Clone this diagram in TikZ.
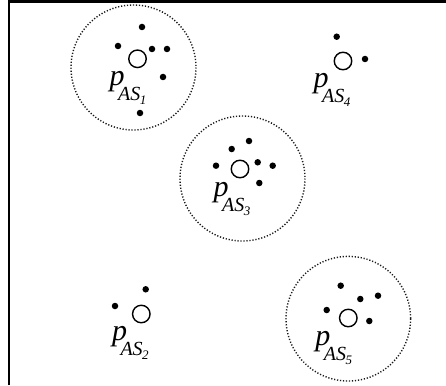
\documentclass[tikz,border=0pt]{standalone}
\usepackage{fontspec}
\setmainfont{Liberation Serif}
\newcommand{\plab}[1]{{\fontsize{30}{30}\selectfont\itshape p}\kern-6.5pt\raisebox{-15pt}{\fontsize{20}{20}\selectfont\itshape AS\kern-0.5pt\raisebox{-4pt}{\fontsize{13}{13}\selectfont\itshape #1}}}
\begin{document}
\begin{tikzpicture}[x=1pt,y=-1pt,
  zone/.style={draw=black!90, line width=1.4pt, dash pattern=on 1.2pt off 1.8pt},
  hub/.style={circle, draw, line width=1.4pt, minimum size=17.5pt, inner sep=0pt},
  pt/.style={circle, fill=black, minimum size=6.5pt, inner sep=0pt},
  lab/.style={anchor=base west, inner sep=0pt},
  frame/.style={line width=2.2pt}]
\useasboundingbox (0,0) rectangle (446,385);
\draw[frame] (9,385) -- (9,1.5) -- (446,1.5);
% zones
\draw[zone] (133.5,67.5) circle (62.5);
\draw[zone] (242.5,178.5) circle (62.5);
\draw[zone] (348.3,318.7) circle (62.3);
% AS1
\node[hub] (h1) at (137.5,58.8) {};
\node[pt] (a11) at (142,27) {};
\node[pt] (a12) at (118,46) {};
\node[pt] (a13) at (152,49) {};
\node[pt] (a14) at (167,49) {};
\node[pt] (a15) at (163,77) {};
\node[pt] (a16) at (140,113) {};
\node[lab] (l1) at (109.5,85.5) {\plab{1}};
% AS2
\node[hub] (h2) at (141.3,314) {};
\node[pt] (a21) at (145.7,289.3) {};
\node[pt] (a22) at (115,306) {};
\node[lab] (l2) at (111.8,340.5) {\plab{2}};
% AS3
\node[hub] (h3) at (240,169) {};
\node[pt] (a31) at (249,141) {};
\node[pt] (a32) at (231.7,149) {};
\node[pt] (a33) at (216,165.7) {};
\node[pt] (a34) at (257.7,162.3) {};
\node[pt] (a35) at (272.7,165.7) {};
\node[pt] (a36) at (259.3,183) {};
\node[lab] (l3) at (213.5,196) {\plab{3}};
% AS4
\node[hub] (h4) at (343,61) {};
\node[pt] (a41) at (336.7,36.7) {};
\node[pt] (a42) at (365,59) {};
\node[lab] (l4) at (313.5,88) {\plab{4}};
% AS5
\node[hub] (h5) at (348.3,318) {};
\node[pt] (a51) at (340.7,285.7) {};
\node[pt] (a52) at (360.3,299) {};
\node[pt] (a53) at (378,295.7) {};
\node[pt] (a54) at (326.7,310) {};
\node[pt] (a55) at (369.3,321) {};
\node[lab] (l5) at (315.2,345.5) {\plab{5}};
\end{tikzpicture}
\end{document}
